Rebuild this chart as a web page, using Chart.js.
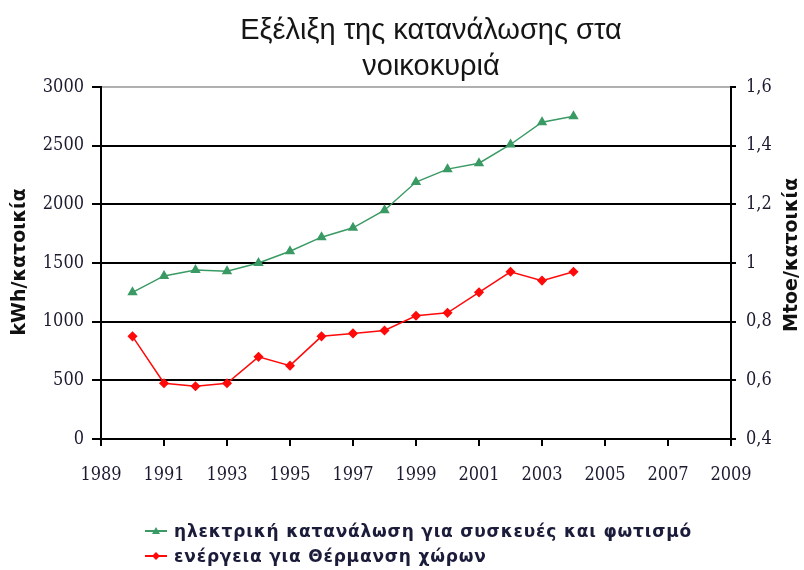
<!DOCTYPE html>
<html>
<head>
<meta charset="utf-8">
<script src="https://cdn.jsdelivr.net/npm/chart.js@4/dist/chart.umd.min.js"></script>
<style>
  body { margin: 0; background: #fff; }
  #wrap { position: relative; width: 804px; height: 570px; overflow: hidden; }
  #chart { position: absolute; left: 0; top: 0; }
  #title { position: absolute; left: 181px; width: 500px; top: 11px; text-align: center;
    font: 29px "Liberation Sans", Arial, sans-serif; line-height: 36px; color: #151515; }
  #legend { position: absolute; left: 145px; top: 519px; font: bold 17px "DejaVu Sans", sans-serif;
    color: #1b1b3a; letter-spacing: 0.8px; }
  .row { height: 25px; line-height: 25px; white-space: nowrap; }
  .row svg { vertical-align: middle; margin-right: 5px; margin-top: -3px; }
</style>
</head>
<body>
<div id="wrap">
  <canvas id="chart" width="804" height="570"></canvas>
  <div id="title">Εξέλιξη της κατανάλωσης στα<br>νοικοκυριά</div>
  <div id="legend"></div>
</div>
<script>
const chartTitle = 'Εξέλιξη της κατανάλωσης στα νοικοκυριά';
const years = [1990, 1991, 1992, 1993, 1994, 1995, 1996, 1997, 1998, 1999, 2000, 2001, 2002, 2003, 2004];
const electricity = [1250, 1390, 1440, 1430, 1500, 1600, 1720, 1800, 1950, 2190, 2300, 2350, 2510, 2700, 2750];
const heating = [0.75, 0.59, 0.58, 0.59, 0.68, 0.65, 0.75, 0.76, 0.77, 0.82, 0.83, 0.90, 0.97, 0.94, 0.97];
const seriesNames = ['ηλεκτρική κατανάλωση για συσκευές και φωτισμό', 'ενέργεια για Θέρμανση χώρων'];
const leftAxisTitle = 'kWh/κατοικία';
const rightAxisTitle = 'Mtoe/κατοικία';
const xTicks = [1989, 1991, 1993, 1995, 1997, 1999, 2001, 2003, 2005, 2007, 2009];
const leftTicks = [0, 500, 1000, 1500, 2000, 2500, 3000];
const rightTicks = [0.4, 0.6, 0.8, 1, 1.2, 1.4, 1.6];

const green = '#3a9a64';
const red = '#ff0a0a';
const tickFont = { family: '"DejaVu Serif Condensed", "DejaVu Serif", serif', size: 18 };
const tickColor = '#1b1b30';

// axis titles read bottom-to-top on both sides
const axisTitles = {
  id: 'axisTitles',
  afterDraw(chart) {
    const c = chart.ctx;
    c.save();
    c.font = 'bold 19px "DejaVu Sans", sans-serif';
    c.fillStyle = '#111';
    c.textAlign = 'center';
    c.textBaseline = 'middle';
    [[20, 262, leftAxisTitle], [792, 255, rightAxisTitle]].forEach(([x, y, t]) => {
      c.save();
      c.translate(x, y);
      c.rotate(-Math.PI / 2);
      c.fillText(t, 0, 0);
      c.restore();
    });
    c.restore();
  }
};

const ctx = document.getElementById('chart').getContext('2d');
new Chart(ctx, {
  type: 'line',
  data: {
    datasets: [
      {
        label: seriesNames[0],
        data: years.map((y, i) => ({ x: y, y: electricity[i] })),
        yAxisID: 'y',
        borderColor: green,
        backgroundColor: green,
        borderWidth: 1.5,
        pointStyle: 'triangle',
        pointRadius: 4.5,
      },
      {
        label: seriesNames[1],
        data: years.map((y, i) => ({ x: y, y: heating[i] })),
        yAxisID: 'y1',
        borderColor: red,
        backgroundColor: red,
        borderWidth: 1.5,
        pointStyle: 'rectRot',
        pointRadius: 4,
      },
    ],
  },
  options: {
    responsive: false,
    animation: false,
    layout: { padding: { top: 87, left: 0, right: 0, bottom: 0 } },
    plugins: { legend: { display: false }, title: { display: false }, tooltip: { enabled: false } },
    scales: {
      x: {
        type: 'linear',
        min: 1989,
        max: 2009,
        afterBuildTicks: (s) => { s.ticks = xTicks.map((v) => ({ value: v })); },
        afterFit: (s) => { s.height = 131; },
        grid: { drawOnChartArea: false, color: '#000', lineWidth: 2, tickLength: 7 },
        border: { color: '#000', width: 2 },
        ticks: { font: tickFont, color: tickColor, padding: 19, maxRotation: 0, callback: (v) => String(v) },
      },
      y: {
        position: 'left',
        min: 0,
        max: 3000,
        afterBuildTicks: (s) => { s.ticks = leftTicks.map((v) => ({ value: v })); },
        afterFit: (s) => { s.width = 101; },
        grid: {
          color: (c) => (c.tick && c.tick.value === 3000 ? '#b0b0b0' : '#000'),
          tickColor: '#000',
          lineWidth: 2,
          tickLength: 9,
        },
        border: { color: '#000', width: 2 },
        ticks: { font: tickFont, color: tickColor, padding: 8, callback: (v) => String(v) },
      },
      y1: {
        position: 'right',
        min: 0.4,
        max: 1.6,
        afterBuildTicks: (s) => { s.ticks = rightTicks.map((v) => ({ value: v })); },
        afterFit: (s) => { s.width = 73; },
        grid: { drawOnChartArea: false, color: '#000', lineWidth: 2, tickLength: 5 },
        border: { color: '#000', width: 2 },
        ticks: {
          font: tickFont,
          color: tickColor,
          padding: 10,
          callback: (v) => String(Math.round(v * 10) / 10).replace('.', ','),
        },
      },
    },
  },
  plugins: [axisTitles],
});

// legend rows from the series names
const legend = document.getElementById('legend');
const markers = [
  '<polygon points="11,3 15,10 7,10" fill="' + green + '"/>',
  '<polygon points="11,3 15,7 11,11 7,7" fill="' + red + '"/>',
];
const colors = [green, red];
seriesNames.forEach((name, i) => {
  const row = document.createElement('div');
  row.className = 'row';
  row.innerHTML = '<svg width="24" height="14"><line x1="0" y1="7" x2="22" y2="7" stroke="' + colors[i] +
    '" stroke-width="2"/>' + markers[i] + '</svg>' + name;
  legend.appendChild(row);
});
</script>
</body>
</html>
